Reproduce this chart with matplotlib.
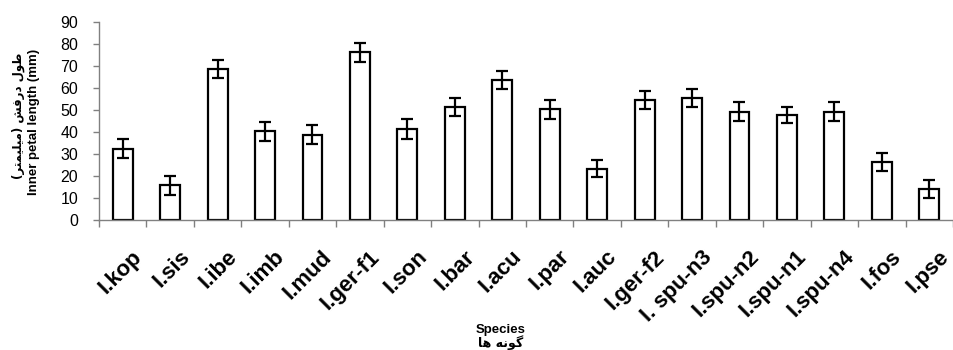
import numpy as np
import matplotlib
matplotlib.use("Agg")
import matplotlib.pyplot as plt
import matplotlib.transforms as mtransforms

# Data
species = ["I.kop", "I.sis", "I.ibe", "I.imb", "I.mud", "I.ger-f1", "I.son",
           "I.bar", "I.acu", "I.par", "I.auc", "I.ger-f2", "I. spu-n3",
           "I.spu-n2", "I.spu-n1", "I.spu-n4", "I.fos", "I.pse"]
petal_length = [32.4, 15.7, 68.7, 40.3, 38.8, 76.2, 41.4, 51.4, 63.6,
                 50.3, 23.4, 54.6, 55.6, 49.2, 47.7, 49.2, 26.2, 14.0]
petal_err = [4.3, 4.2, 4.1, 4.2, 4.2, 4.2, 4.4, 4.1, 4.1,
             4.3, 3.8, 4.2, 4.1, 4.3, 3.6, 4.3, 4.1, 4.1]

ylabel_fa = "طول درفش (میلیمتر)"
ylabel_en = "Inner petal length (mm)"
xlabel_en = "Species"
xlabel_fa = "گونه ها"

# matplotlib has no Arabic shaping, so pick presentation forms by hand
# (isolated, final, initial, medial); None = letter does not join forward
FORMS = {
    "ط": ("\ufec1", "\ufec2", "\ufec3", "\ufec4"),
    "و": ("\ufeed", "\ufeee", None, None),
    "ل": ("\ufedd", "\ufede", "\ufedf", "\ufee0"),
    "د": ("\ufea9", "\ufeaa", None, None),
    "ر": ("\ufead", "\ufeae", None, None),
    "ف": ("\ufed1", "\ufed2", "\ufed3", "\ufed4"),
    "ش": ("\ufeb5", "\ufeb6", "\ufeb7", "\ufeb8"),
    "م": ("\ufee1", "\ufee2", "\ufee3", "\ufee4"),
    "ی": ("\ufbfc", "\ufbfd", "\ufef3", "\ufef4"),
    "ت": ("\ufe95", "\ufe96", "\ufe97", "\ufe98"),
    "گ": ("\ufb92", "\ufb93", "\ufb94", "\ufb95"),
    "ن": ("\ufee5", "\ufee6", "\ufee7", "\ufee8"),
    "ه": ("\ufee9", "\ufeea", "\ufeeb", "\ufeec"),
    "ا": ("\ufe8d", "\ufe8e", None, None),
}


def shape_fa(s):
    out = []
    for i, c in enumerate(s):
        if c not in FORMS:
            out.append(c)
            continue
        prev = s[i - 1] if i > 0 else ""
        nxt = s[i + 1] if i + 1 < len(s) else ""
        j_prev = prev in FORMS and FORMS[prev][2] is not None
        j_next = nxt in FORMS and FORMS[c][2] is not None
        iso, fin, ini, med = FORMS[c]
        if j_prev and j_next:
            out.append(med)
        elif j_prev:
            out.append(fin)
        elif j_next:
            out.append(ini)
        else:
            out.append(iso)
    vis = "".join(out)[::-1]
    return vis.translate(str.maketrans("()", ")("))


plt.rcParams["font.family"] = ["Liberation Sans", "DejaVu Sans"]

fig = plt.figure(figsize=(9.54, 3.5), dpi=100)
ax = fig.add_axes([99 / 954, 1 - 220 / 350, 854 / 954, 198 / 350])

x = np.arange(len(species))
ax.bar(x, petal_length, width=0.42, color="white", edgecolor="black",
       linewidth=1.6, zorder=2)
ax.errorbar(x, petal_length, yerr=petal_err, fmt="none", ecolor="black",
            elinewidth=1.6, capsize=4.5, capthick=1.6, zorder=3)

ax.set_xlim(-0.5, len(species) - 0.5)
ax.set_ylim(0, 90)
ax.set_yticks(np.arange(0, 91, 10))

for side in ["top", "right"]:
    ax.spines[side].set_visible(False)
for side in ["left", "bottom"]:
    ax.spines[side].set_color("#808080")
    ax.spines[side].set_linewidth(1.0)

ax.tick_params(axis="y", direction="out", length=4, width=1, color="#808080",
               labelsize=11.5, pad=11)
ax.set_xticks(x)
ax.set_xticklabels(species, rotation=45, ha="right", rotation_mode="anchor",
                   fontsize=16, fontweight="bold")
ax.tick_params(axis="x", which="major", length=0, pad=19)
ax.set_xticks(np.arange(-0.5, len(species)), minor=True)
ax.tick_params(axis="x", which="minor", direction="out", length=5, width=1,
               color="#808080")

# nudge the slanted labels to the right, as in the reference
shift = mtransforms.ScaledTranslation(9 / 100, 0, fig.dpi_scale_trans)
for lab in ax.get_xticklabels():
    lab.set_transform(lab.get_transform() + shift)

# axis titles (English + Persian)
fig.text(18 / 954, 1 - 116 / 350, shape_fa(ylabel_fa), rotation=90,
         ha="center", va="center", fontsize=8.5, fontweight="bold",
         family=["DejaVu Sans"])
fig.text(34 / 954, 1 - 122 / 350, ylabel_en, rotation=90, ha="center",
         va="center", fontsize=9.5, fontweight="bold")
fig.text(501 / 954, 1 - 330 / 350, xlabel_en, ha="center", va="center",
         fontsize=9.5, fontweight="bold")
fig.text(501 / 954, 1 - 343 / 350, shape_fa(xlabel_fa), ha="center",
         va="center", fontsize=9, fontweight="bold", family=["DejaVu Sans"])

fig.savefig("out.png", dpi=100)
